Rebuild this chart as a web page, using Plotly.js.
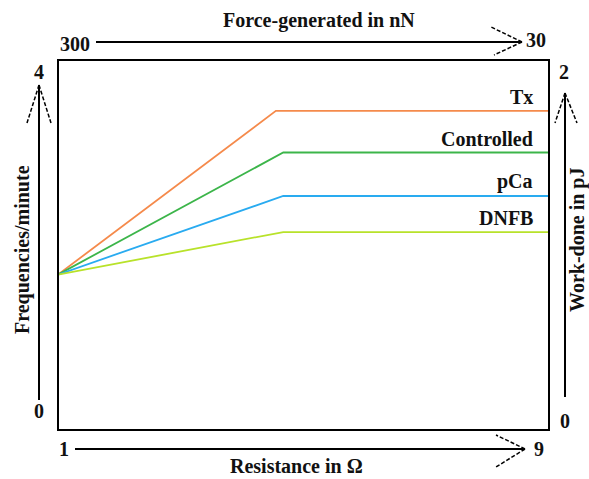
<!DOCTYPE html>
<html>
<head>
<meta charset="utf-8">
<script src="https://cdn.plot.ly/plotly-3.0.1.min.js"></script>
<style>html,body{margin:0;padding:0;background:#fff;}#chart{width:589px;height:479px;}</style>
</head>
<body>
<div id="chart"></div>
<script>
// ---- data ----
const seriesNames = ["Tx", "Controlled", "pCa", "DNFB"];
const seriesColors = ["#F58A4B", "#3CB54A", "#29ABF0", "#B8E22A"];
const txX = [1, 4.55, 9];
const txY = [1.68, 3.45, 3.45];
const controlledX = [1, 4.67, 9];
const controlledY = [1.68, 3.0, 3.0];
const pcaX = [1, 4.67, 9];
const pcaY = [1.68, 2.53, 2.53];
const dnfbX = [1, 4.67, 9];
const dnfbY = [1.68, 2.14, 2.14];
const leftTicks = ["0", "4"];
const rightTicks = ["0", "2"];
const topTicks = ["300", "30"];
const bottomTicks = ["1", "9"];
const xTitle = "Resistance in Ω";
const yTitle = "Frequencies/minute";
const topTitle = "Force-generated in nN";
const rightTitle = "Work-done in pJ";

// ---- layout helpers (pixel -> paper) ----
const L = 58, R = 549, T = 60, B = 430;
const W = 589, H = 479;
const px = x => (x - L) / (R - L);
const py = y => (B - y) / (B - T);
const FONT = "Liberation Serif, Times New Roman, serif";
const TXT = "#111";

const xs = [txX, controlledX, pcaX, dnfbX];
const ys = [txY, controlledY, pcaY, dnfbY];

const traces = seriesNames.map((n, i) => ({
  x: xs[i], y: ys[i], type: "scatter", mode: "lines", name: n,
  line: { color: seriesColors[i], width: 1.8 }, hoverinfo: "skip"
}));

function txt(text, x, y, extra) {
  return Object.assign({
    text: "<b>" + text + "</b>", xref: "paper", yref: "paper",
    x: px(x), y: py(y), xanchor: "center", yanchor: "middle",
    showarrow: false, font: { family: FONT, size: 20, color: TXT }
  }, extra || {});
}

const annotations = [
  txt(topTitle, 319, 21),
  txt(xTitle, 296, 466),
  txt(yTitle, 22, 250, { textangle: -90 }),
  txt(rightTitle, 577, 240, { textangle: -90 }),
  txt(topTicks[0], 75, 44),
  txt(topTicks[1], 536, 40),
  txt(bottomTicks[0], 64, 449),
  txt(bottomTicks[1], 539, 449),
  txt(leftTicks[1], 39, 72),
  txt(leftTicks[0], 39, 411),
  txt(rightTicks[1], 564, 72),
  txt(rightTicks[0], 565, 421)
];
seriesNames.forEach((n, i) => {
  annotations.push({
    text: "<b>" + n + "</b>", xref: "x", yref: "y",
    x: 8.77, y: ys[i][ys[i].length - 1], xanchor: "right", yanchor: "bottom",
    yshift: 1, showarrow: false, font: { family: FONT, size: 20, color: TXT }
  });
});

function seg(x0, y0, x1, y1, dash, w) {
  return {
    type: "line", xref: "paper", yref: "paper",
    x0: px(x0), y0: py(y0), x1: px(x1), y1: py(y1),
    line: { color: "#000", width: w || 2, dash: dash || "solid" }
  };
}
const HD = "4px,2px";
const shapes = [
  { type: "rect", xref: "paper", yref: "paper", x0: 0, y0: 0, x1: 1, y1: 1,
    line: { color: "#000", width: 2 }, fillcolor: "rgba(0,0,0,0)" },
  // top arrow
  seg(96, 42, 522, 42),
  seg(522, 42, 491, 27, HD, 1.5), seg(522, 42, 494, 55, HD, 1.5),
  // bottom arrow
  seg(75, 449, 525, 449),
  seg(525, 449, 496, 435, HD, 1.5), seg(525, 449, 496, 467, HD, 1.5),
  // left arrow
  seg(39, 400, 39, 85),
  seg(39, 85, 27, 123, HD, 1.5), seg(39, 85, 51, 123, HD, 1.5),
  // right arrow
  seg(565, 397, 565, 93),
  seg(565, 93, 555, 123, HD, 1.5), seg(565, 93, 577, 123, HD, 1.5)
];

const layout = {
  width: W, height: H,
  margin: { l: L, r: W - R, t: T, b: H - B, pad: 0 },
  paper_bgcolor: "#fff", plot_bgcolor: "#fff",
  showlegend: false,
  xaxis: { range: [1, 9], visible: false, fixedrange: true },
  yaxis: { range: [0, 4], visible: false, fixedrange: true },
  annotations: annotations,
  shapes: shapes
};

Plotly.newPlot("chart", traces, layout, { displayModeBar: false, staticPlot: true });
</script>
</body>
</html>
